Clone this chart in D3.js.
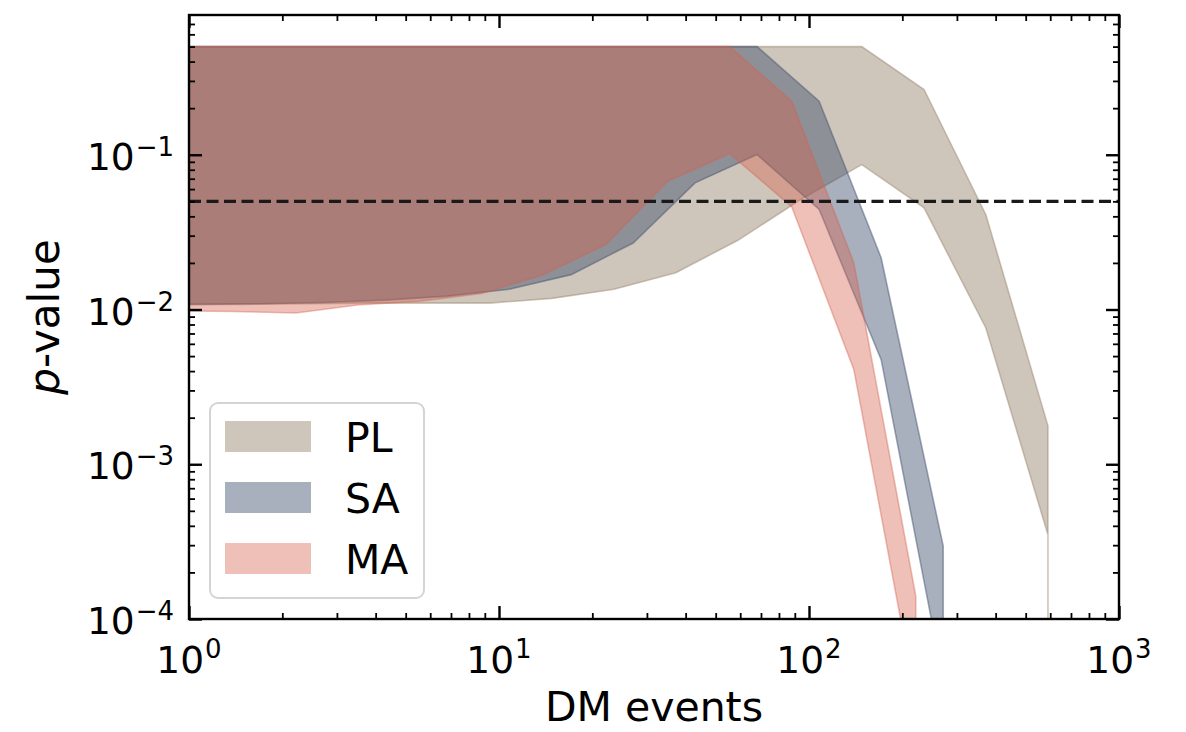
<!DOCTYPE html>
<html>
<head>
<meta charset="utf-8">
<script src="https://cdn.jsdelivr.net/npm/d3@7"></script>
<style>
  body { margin: 0; background: #fff; }
  svg { display: block; }
  text { font-family: "DejaVu Sans", sans-serif; fill: #000; }
</style>
</head>
<body>
<svg id="chart" width="1186" height="732"></svg>
<script>
// p-value that has dropped to (numerically) zero: far below the plotted range
const P_ZERO = 1e-12;

// PL: DM event counts and the p-value band (lower / upper envelope)
const plEvents = [0.93, 1.48, 2.35, 3.72, 5.9, 9.35, 14.8, 23.5, 37.2, 59.0, 93.5, 148, 235, 372, 590, 590];
const plLower  = [0.0108, 0.0108, 0.0109, 0.0110, 0.0110, 0.0110, 0.0118, 0.0135, 0.0173, 0.0280, 0.0510, 0.0864, 0.0454, 0.0076, 0.00035, P_ZERO];
const plUpper  = [0.5, 0.5, 0.5, 0.5, 0.5, 0.5, 0.5, 0.5, 0.5, 0.5, 0.5, 0.5, 0.264, 0.041, 0.00177, P_ZERO];

// SA
const saEvents = [0.68, 1.08, 1.71, 2.71, 4.29, 6.8, 10.8, 17.1, 27.1, 42.9, 68.0, 107.8, 170.9, 271, 271];
const saLower  = [0.0108, 0.0108, 0.0109, 0.0111, 0.0115, 0.0122, 0.0135, 0.0168, 0.0269, 0.0658, 0.1003, 0.0443, 0.00474, 4e-5, P_ZERO];
const saUpper  = [0.5, 0.5, 0.5, 0.5, 0.5, 0.5, 0.5, 0.5, 0.5, 0.5, 0.5, 0.222, 0.0216, 2.96e-4, P_ZERO];

// MA
const maEvents = [0.88, 1.39, 2.21, 3.5, 5.56, 8.8, 13.9, 22.1, 35.0, 55.5, 88.0, 139.5, 221, 221];
const maLower  = [0.0098, 0.0097, 0.0095, 0.0107, 0.0113, 0.0127, 0.0168, 0.0263, 0.0674, 0.1018, 0.046, 0.0041, 3e-5, P_ZERO];
const maUpper  = [0.5, 0.5, 0.5, 0.5, 0.5, 0.5, 0.5, 0.5, 0.5, 0.5, 0.222, 0.020, 1.41e-4, P_ZERO];

const seriesNames = ["PL", "SA", "MA"];
const threshold = 0.05;

const xTickValues = [1, 10, 100, 1000];
const xTickExponents = ["0", "1", "2", "3"];
const yTickValues = [1e-4, 1e-3, 1e-2, 1e-1];
const yTickExponents = ["\u22124", "\u22123", "\u22122", "\u22121"];

// ---- styling ----
const bandColors = ["rgb(148,128,104)", "rgb(62,77,108)", "rgb(213,98,78)"];
const bandAlpha = [0.45, 0.45, 0.40];

const M = { left: 189, right: 1119, top: 15, bottom: 619 };
const svg = d3.select("#chart");

const x = d3.scaleLog().domain([1, 1000]).range([M.left, M.right]);
const y = d3.scaleLog().domain([1e-4, 0.8]).range([M.bottom, M.top]);

function minorTicks(scale) {
  const [a, b] = scale.domain();
  const out = [];
  for (let e = Math.floor(Math.log10(a)); e <= Math.ceil(Math.log10(b)); e++) {
    for (let m = 2; m <= 9; m++) {
      const v = m * Math.pow(10, e);
      if (v > a * 1.0001 && v < b * 0.9999) out.push(v);
    }
  }
  return out;
}

svg.append("defs").append("clipPath").attr("id", "plotClip")
  .append("rect")
  .attr("x", M.left).attr("y", M.top)
  .attr("width", M.right - M.left).attr("height", M.bottom - M.top);

// ---- bands ----
const bands = [
  { name: seriesNames[0], xs: plEvents, lo: plLower, hi: plUpper },
  { name: seriesNames[1], xs: saEvents, lo: saLower, hi: saUpper },
  { name: seriesNames[2], xs: maEvents, lo: maLower, hi: maUpper }
].map(s => ({ name: s.name, pts: s.xs.map((v, i) => ({ x: v, lo: s.lo[i], hi: s.hi[i] })) }));

const area = d3.area()
  .x(d => x(d.x))
  .y0(d => y(d.lo))
  .y1(d => y(d.hi))
  .curve(d3.curveLinear);

const gBands = svg.append("g").attr("clip-path", "url(#plotClip)");
gBands.selectAll("path.band")
  .data(bands)
  .join("path")
  .attr("class", "band")
  .attr("d", d => area(d.pts))
  .attr("fill", (d, i) => bandColors[i])
  .attr("fill-opacity", (d, i) => bandAlpha[i])
  .attr("stroke", (d, i) => bandColors[i])
  .attr("stroke-opacity", (d, i) => bandAlpha[i])
  .attr("stroke-width", 1.6)
  .attr("stroke-linejoin", "miter");

// ---- significance threshold ----
svg.append("line")
  .attr("x1", M.left).attr("x2", M.right)
  .attr("y1", y(threshold)).attr("y2", y(threshold))
  .attr("stroke", "#1a1a1a")
  .attr("stroke-width", 3.4)
  .attr("stroke-dasharray", "12,5.5");

// ---- ticks (inward on all four sides) ----
function styleAxis(g, width) {
  g.select(".domain").remove();
  g.selectAll(".tick line").attr("stroke", "#000").attr("stroke-width", width);
  g.selectAll(".tick text").remove();
}
const majorLen = 13, minorLen = 6;
const axes = [
  { make: d3.axisBottom, scale: x, t: `translate(0,${M.bottom})` },
  { make: d3.axisTop, scale: x, t: `translate(0,${M.top})` },
  { make: d3.axisLeft, scale: y, t: `translate(${M.left},0)` },
  { make: d3.axisRight, scale: y, t: `translate(${M.right},0)` }
];
axes.forEach(a => {
  const major = a.scale === x ? xTickValues : yTickValues;
  svg.append("g").attr("transform", a.t)
    .call(a.make(a.scale).tickValues(minorTicks(a.scale)).tickSize(-minorLen).tickFormat(""))
    .call(g => styleAxis(g, 1.8));
  svg.append("g").attr("transform", a.t)
    .call(a.make(a.scale).tickValues(major).tickSize(-majorLen).tickFormat(""))
    .call(g => styleAxis(g, 2.4));
});

// frame
svg.append("rect")
  .attr("x", M.left).attr("y", M.top)
  .attr("width", M.right - M.left).attr("height", M.bottom - M.top)
  .attr("fill", "none").attr("stroke", "#000").attr("stroke-width", 2.4);

// ---- tick labels: 10^k ----
const tickFont = 37.5, supFont = 26;
const xl = svg.append("g");
xTickValues.forEach((v, i) => {
  const t = xl.append("text")
    .attr("x", x(v)).attr("y", 673)
    .attr("text-anchor", "middle")
    .attr("font-size", tickFont);
  t.append("tspan").text("10");
  t.append("tspan").attr("font-size", supFont).attr("dy", -15).attr("dx", 1).text(xTickExponents[i]);
});
const yl = svg.append("g");
yTickValues.forEach((v, i) => {
  const t = yl.append("text")
    .attr("x", 174).attr("y", y(v) + 15)
    .attr("text-anchor", "end")
    .attr("font-size", tickFont);
  t.append("tspan").text("10");
  t.append("tspan").attr("font-size", supFont).attr("dy", -14).attr("dx", 1).text(yTickExponents[i]);
});

// ---- axis titles ----
svg.append("text")
  .attr("x", (M.left + M.right) / 2).attr("y", 721)
  .attr("text-anchor", "middle")
  .attr("font-size", 41)
  .text("DM events");

const yt = svg.append("text")
  .attr("transform", `translate(59,${(M.top + M.bottom) / 2}) rotate(-90)`)
  .attr("text-anchor", "middle")
  .attr("font-size", 42);
yt.append("tspan").attr("font-style", "italic").text("p");
yt.append("tspan").text("-value");

// ---- legend ----
const lg = svg.append("g");
lg.append("rect")
  .attr("x", 210).attr("y", 403).attr("width", 214).attr("height", 195)
  .attr("rx", 8).attr("ry", 8)
  .attr("fill", "#fff").attr("fill-opacity", 0.8)
  .attr("stroke", "#d4d4d4").attr("stroke-width", 2);
const legendRows = [421, 482, 543];
seriesNames.forEach((name, i) => {
  lg.append("rect")
    .attr("x", 225).attr("y", legendRows[i]).attr("width", 86).attr("height", 31)
    .attr("fill", bandColors[i]).attr("fill-opacity", bandAlpha[i]);
  lg.append("text")
    .attr("x", 345).attr("y", legendRows[i] + 31)
    .attr("font-size", 41)
    .text(name);
});
</script>
</body>
</html>
